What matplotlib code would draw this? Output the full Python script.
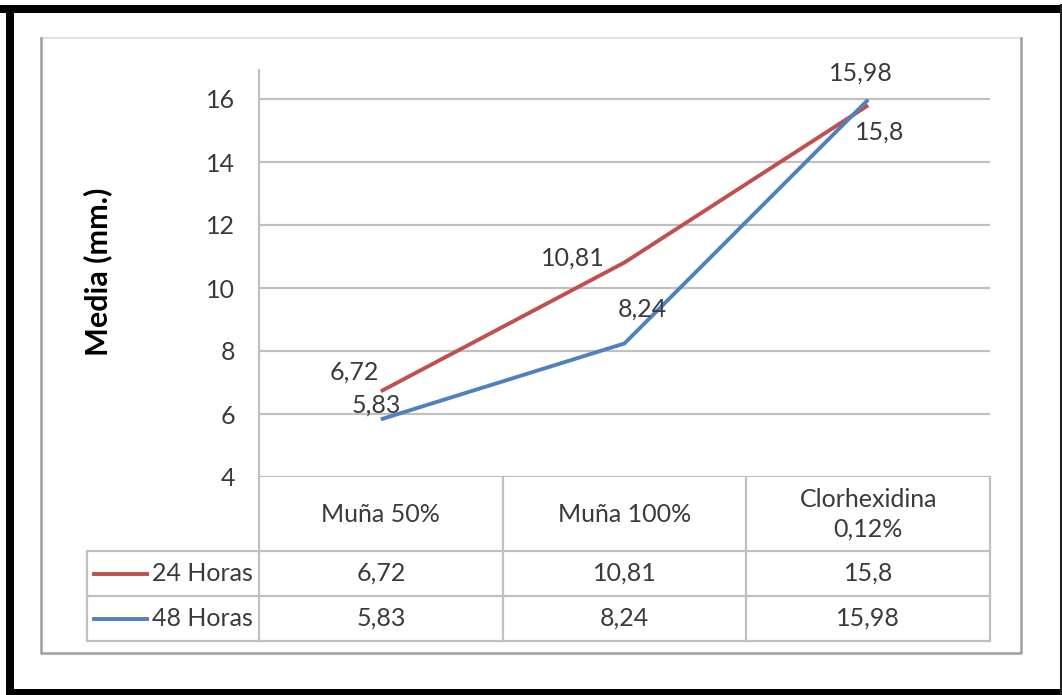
import matplotlib.pyplot as plt
from matplotlib.lines import Line2D

#------------------------------------------------------------------------------

categories   = ['Muña 50%', 'Muña 100%', 'Clorhexidina\n0,12%']
series_names = ['24 Horas', '48 Horas']
horas_24     = [6.72, 10.81, 15.8]
horas_48     = [5.83, 8.24, 15.98]
y_ticks      = [4, 6, 8, 10, 12, 14, 16]
y_label      = 'Media (mm.)'

red  = '#C0504D'
blue = '#4F81BD'
grid_gray = '#C0C0C0'
text_gray = '#3A3A3A'

plt.rcParams['font.family'] = ['Lato', 'DejaVu Sans']

W, H = 1062, 695

def fx(px):
    return px / W

def fy(py):
    return 1 - py / H

#------------------------------------------------------------------------------

fig = plt.figure(figsize=(W / 100, H / 100), dpi=100)

# overlay in pixel coordinates for frames and the data table
over = fig.add_axes([0, 0, 1, 1])
over.set_xlim(0, W)
over.set_ylim(H, 0)
over.axis('off')

# outer black border
over.fill_between([0, W], 5, 13, color='black', lw=0)
over.fill_between([6, 14], 5, H, color='black', lw=0)
over.fill_between([6, W], 689, H, color='black', lw=0)
over.plot([1060.5, 1060.5], [5, H], color='#202020', lw=1.5)

# chart frame
over.plot([41, 1021], [38, 38], color='#E2E2E2', lw=1.5)
over.plot([41, 41, 1021, 1021], [38, 653, 653, 38], color='#9E9E9E', lw=1.8)

# plot area
left, right, top, bottom = 259, 990, 70, 477
ax = fig.add_axes([fx(left), fy(bottom), fx(right - left), (bottom - top) / H])
ax.set_facecolor('none')
x = list(range(len(categories)))
ax.plot(x, horas_24, color=red, lw=2.8, solid_capstyle='butt')
ax.plot(x, horas_48, color=blue, lw=2.8, solid_capstyle='butt')
ax.set_xlim(-0.5, len(categories) - 0.5)
ax.set_ylim(4, 4 + (bottom - top) / 31.5)
ax.set_yticks(y_ticks)
ax.set_yticklabels([str(t) for t in y_ticks], fontsize=18, color=text_gray)
ax.set_xticks([])
ax.tick_params(axis='y', length=0, pad=17)
ax.yaxis.grid(True, color=grid_gray, lw=1.6)
ax.set_axisbelow(True)
for s in ['top', 'right', 'bottom']:
    ax.spines[s].set_visible(False)
ax.spines['left'].set_color(grid_gray)
ax.spines['left'].set_linewidth(1.6)

# data labels
offsets_24 = [(-19, 14), (-37, 3), (8, -19)]
offsets_48 = [(-3, 10), (13, 25), (-5, 19)]
for vals, offs in [(horas_24, offsets_24), (horas_48, offsets_48)]:
    for xi, v, off in zip(x, vals, offs):
        ax.annotate(f'{v:g}'.replace('.', ','), (xi, v), xytext=off,
                    textcoords='offset points', ha='center', va='center',
                    fontsize=18, color=text_gray)

fig.text(fx(98), fy(272), y_label, rotation=90, ha='center', va='center',
         fontsize=22, fontweight='bold', color='black')

#------------------------------------------------------------------------------

# data table below the plot
col_w = (right - left) / len(categories)
edges = [left + i * col_w for i in range(len(categories) + 1)]
tab_left = 87
row_y = [bottom, 551, 596, 641]

for e in edges:
    over.plot([e, e], [bottom, row_y[-1]], color=grid_gray, lw=1.6)
over.plot([tab_left, tab_left], [row_y[1], row_y[-1]], color=grid_gray, lw=1.6)
for yy in row_y[1:]:
    over.plot([tab_left, right], [yy, yy], color=grid_gray, lw=1.6)

for i, cat in enumerate(categories):
    cx = (edges[i] + edges[i + 1]) / 2
    over.text(cx, (row_y[0] + row_y[1]) / 2, cat, ha='center', va='center',
              fontsize=18, color=text_gray, linespacing=1.35)

for r, (name, vals, col) in enumerate(zip(series_names, [horas_24, horas_48], [red, blue])):
    cy = (row_y[r + 1] + row_y[r + 2]) / 2
    over.add_line(Line2D([94, 147], [cy, cy], color=col, lw=2.8))
    over.text(253, cy, name, ha='right', va='center', fontsize=18, color=text_gray)
    for i, v in enumerate(vals):
        cx = (edges[i] + edges[i + 1]) / 2
        over.text(cx, cy, f'{v:g}'.replace('.', ','), ha='center', va='center',
                  fontsize=18, color=text_gray)

fig.savefig('out.png', dpi=100)
